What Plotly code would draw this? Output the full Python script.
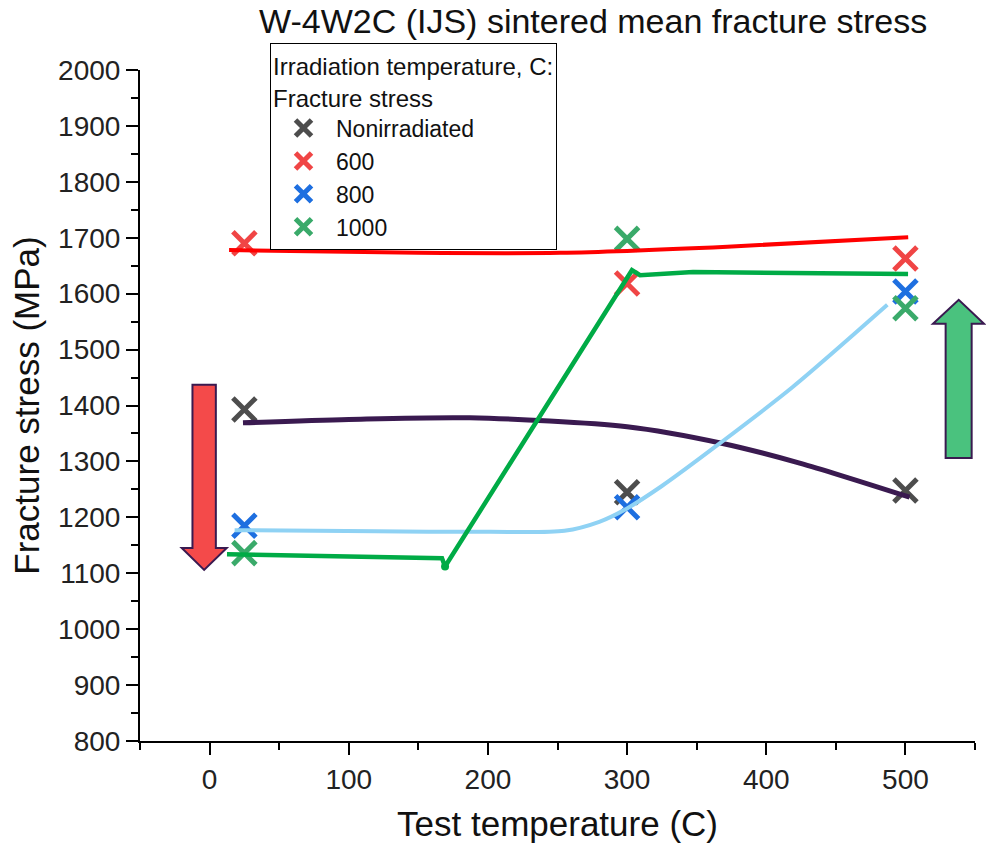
import plotly.graph_objects as go

# ---- measured data ----------------------------------------------------------
test_temp = [25, 300, 500]
series_names = ["Nonirradiated", "600", "800", "1000"]
stress_nonirr = [1393, 1245, 1248]
stress_600 = [1690, 1618, 1663]
stress_800 = [1185, 1218, 1604]
stress_1000 = [1136, 1698, 1574]

marker_colors = ["#4d4d4d", "#f04545", "#1e6fe0", "#3aaa6a"]

# ---- hand-fitted trend curves -----------------------------------------------
trend_600_x = [14, 150, 252, 372, 502]
trend_600_y = [1678, 1673, 1673, 1684, 1701]

trend_nonirr_x = [24, 100, 187, 300, 367, 424, 503]
trend_nonirr_y = [1369, 1375, 1378, 1362, 1333, 1297, 1236]

trend_800_x = [18, 120, 200, 255, 280, 300, 325, 367, 419, 487]
trend_800_y = [1177, 1175, 1174, 1176, 1192, 1216, 1256, 1333, 1433, 1580]

trend_1000_x = [12.5, 100, 167, 169.2, 251.8, 303.5, 309.3, 347.4, 501.9]
trend_1000_y = [1134, 1130, 1127, 1112, 1436, 1642, 1633, 1638.7, 1635]
KNOB = 3  # rounded corner point of the 1000 C curve

# ---- arrows (data units) ----------------------------------------------------
down_arrow_x = [-12.3, 4.5, 4.5, 12.3, -3.9, -20.0, -12.3]
down_arrow_y = [1437, 1437, 1145, 1145, 1106, 1145, 1145]
up_arrow_x = [528.9, 547.6, 547.6, 556.5, 538.3, 519.8, 528.9]
up_arrow_y = [1306, 1306, 1546, 1546, 1589, 1546, 1546]

X_RANGE = [-50, 550]
Y_RANGE = [800, 2000]

FONT = "Liberation Sans, Arial, sans-serif"

fig = go.Figure()

# scatter markers first, so the trend lines sit on top of them
for name, ys, col in zip(series_names,
                         [stress_nonirr, stress_600, stress_800, stress_1000],
                         marker_colors):
    fig.add_trace(go.Scatter(
        x=test_temp, y=ys, mode="markers", name=name,
        marker=dict(symbol="x-thin", size=23, color=col,
                    line=dict(color=col, width=5)),
    ))

curves = [
    (trend_600_x, trend_600_y, "#ff0000", 4, "spline"),
    (trend_nonirr_x, trend_nonirr_y, "#3a1a50", 5, "spline"),
    (trend_800_x, trend_800_y, "#8fd2f4", 4, "spline"),
    (trend_1000_x, trend_1000_y, "#00ab46", 4.5, "linear"),
]
for xs, ys, col, w, shp in curves:
    fig.add_trace(go.Scatter(
        x=xs, y=ys, mode="lines", showlegend=False, hoverinfo="skip",
        line=dict(color=col, width=w, shape=shp, smoothing=0.8),
    ))

# small round blob where the 1000 C curve turns upward
fig.add_trace(go.Scatter(
    x=[trend_1000_x[KNOB]], y=[trend_1000_y[KNOB]], mode="markers",
    showlegend=False, hoverinfo="skip",
    marker=dict(symbol="circle", size=8, color="#00ab46"),
))


def to_paper(xs, ys):
    px = [(x - X_RANGE[0]) / (X_RANGE[1] - X_RANGE[0]) for x in xs]
    py = [(y - Y_RANGE[0]) / (Y_RANGE[1] - Y_RANGE[0]) for y in ys]
    return px, py


def arrow_path(xs, ys):
    px, py = to_paper(xs, ys)
    pts = " L ".join(f"{a:.5f},{b:.5f}" for a, b in zip(px, py))
    return f"M {pts} Z"


shapes = [
    dict(type="path", xref="paper", yref="paper",
         path=arrow_path(down_arrow_x, down_arrow_y),
         fillcolor="#f44a4a", line=dict(color="#3a1a50", width=2)),
    dict(type="path", xref="paper", yref="paper",
         path=arrow_path(up_arrow_x, up_arrow_y),
         fillcolor="#4ac27e", line=dict(color="#3a1a50", width=2)),
]

axis_common = dict(
    showline=True, linecolor="black", linewidth=2,
    ticks="outside", ticklen=12, tickwidth=2, tickcolor="black",
    showgrid=False, zeroline=False,
    tickfont=dict(family=FONT, size=28, color="#222222"),
    title_font=dict(family=FONT, size=35, color="#111111"),
    minor=dict(ticks="outside", ticklen=7, tickwidth=2, tickcolor="black",
               dtick=50, showgrid=False),
)

fig.update_layout(
    width=986, height=850,
    margin=dict(l=140, r=11, t=70, b=109),
    paper_bgcolor="white", plot_bgcolor="white",
    title=dict(text="W-4W2C (IJS) sintered mean fracture stress",
               font=dict(family=FONT, size=34, color="#111111"),
               x=0.6015, xanchor="center", y=0.975, yanchor="middle"),
    xaxis=dict(range=X_RANGE, dtick=100, tick0=0,
               title=dict(text="Test temperature (C)", standoff=18),
               **axis_common),
    yaxis=dict(range=Y_RANGE, dtick=100, tick0=0,
               title=dict(text="Fracture stress (MPa)", standoff=8),
               **axis_common),
    legend=dict(
        title=dict(text="Irradiation temperature, C:<br>Fracture stress",
                   font=dict(family=FONT, size=24, color="#111111")),
        font=dict(family=FONT, size=23, color="#111111"),
        x=0.1557, y=1.040, xanchor="left", yanchor="top",
        bgcolor="white", bordercolor="black", borderwidth=1,
        itemwidth=55, tracegroupgap=0,
    ),
    shapes=shapes,
)

fig.write_html("out.html")
